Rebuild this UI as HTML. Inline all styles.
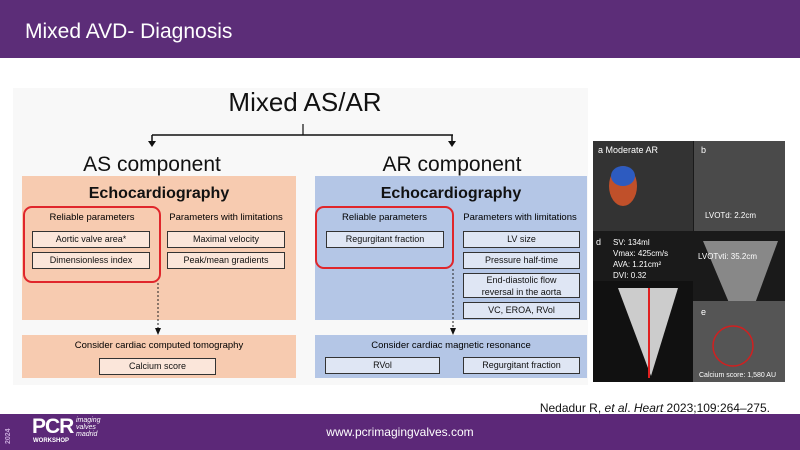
<!DOCTYPE html>
<html><head><meta charset="utf-8"><style>
*{margin:0;padding:0;box-sizing:border-box}
body{width:800px;height:450px;position:relative;background:#fff;font-family:"Liberation Sans",sans-serif;overflow:hidden}
.a{position:absolute}
.t{position:absolute;white-space:nowrap;text-align:center}
.b{position:absolute;border:1px solid #333;font-size:9px;text-align:center;line-height:15px;color:#111}
.as .b{background:#fbe6da}
.ar .b{background:#dfe6f4}
.red{position:absolute;border:2px solid #e0262b;border-radius:9px}
</style></head><body>
<div class="a" style="left:0;top:0;width:800px;height:58px;background:#5c2d78"></div>
<div class="t" style="left:25px;top:20px;color:#fff;font-size:21px">Mixed AVD- Diagnosis</div>
<div class="a" style="left:13px;top:88px;width:575px;height:297px;background:#f8f8f8"></div>
<div class="t" style="left:150px;top:87px;width:310px;font-size:26px;color:#111">Mixed AS/AR</div>
<svg class="a" style="left:0;top:0" width="800" height="450">
<line x1="152" y1="135" x2="453" y2="135" stroke="#111" stroke-width="1.5"/>
<line x1="303" y1="124" x2="303" y2="135" stroke="#111" stroke-width="1.2"/>
<line x1="152" y1="135" x2="152" y2="142" stroke="#111" stroke-width="1.5"/>
<polygon points="148,141 156,141 152,147" fill="#111"/>
<line x1="452" y1="135" x2="452" y2="142" stroke="#111" stroke-width="1.5"/>
<polygon points="448,141 456,141 452,147" fill="#111"/>
</svg>
<div class="t" style="left:52px;top:153px;width:200px;font-size:21px;color:#111">AS component</div>
<div class="t" style="left:352px;top:153px;width:200px;font-size:21px;color:#111">AR component</div>

<div class="as">
<div class="a" style="left:22px;top:176px;width:274px;height:144px;background:#f7cbb0"></div>
<div class="t" style="left:22px;top:185px;width:274px;font-size:16px;font-weight:bold;color:#111">Echocardiography</div>
<div class="red" style="left:23px;top:206px;width:138px;height:77px"></div>
<div class="t" style="left:24px;top:212px;width:136px;font-size:9.5px">Reliable parameters</div>
<div class="t" style="left:160px;top:212px;width:132px;font-size:9.5px">Parameters with limitations</div>
<div class="b" style="left:32px;top:231px;width:118px;height:17px">Aortic valve area*</div>
<div class="b" style="left:32px;top:252px;width:118px;height:17px">Dimensionless index</div>
<div class="b" style="left:167px;top:231px;width:118px;height:17px">Maximal velocity</div>
<div class="b" style="left:167px;top:252px;width:118px;height:17px">Peak/mean gradients</div>
<div class="a" style="left:22px;top:335px;width:274px;height:43px;background:#f7cbb0"></div>
<div class="t" style="left:22px;top:340px;width:274px;font-size:9.5px">Consider cardiac computed tomography</div>
<div class="b" style="left:99px;top:358px;width:117px;height:17px">Calcium score</div>
</div>

<div class="ar">
<div class="a" style="left:315px;top:176px;width:272px;height:144px;background:#b4c6e6"></div>
<div class="t" style="left:315px;top:185px;width:272px;font-size:16px;font-weight:bold;color:#111">Echocardiography</div>
<div class="red" style="left:315px;top:206px;width:139px;height:63px"></div>
<div class="t" style="left:315px;top:212px;width:139px;font-size:9.5px">Reliable parameters</div>
<div class="t" style="left:454px;top:212px;width:132px;font-size:9.5px">Parameters with limitations</div>
<div class="b" style="left:326px;top:231px;width:118px;height:17px">Regurgitant fraction</div>
<div class="b" style="left:463px;top:231px;width:117px;height:17px">LV size</div>
<div class="b" style="left:463px;top:252px;width:117px;height:17px">Pressure half-time</div>
<div class="b" style="left:463px;top:273px;width:117px;height:25px;line-height:12px">End-diastolic flow<br>reversal in the aorta</div>
<div class="b" style="left:463px;top:302px;width:117px;height:17px">VC, EROA, RVol</div>
<div class="a" style="left:315px;top:335px;width:272px;height:43px;background:#b4c6e6"></div>
<div class="t" style="left:315px;top:340px;width:272px;font-size:9.5px">Consider cardiac magnetic resonance</div>
<div class="b" style="left:325px;top:357px;width:115px;height:17px">RVol</div>
<div class="b" style="left:463px;top:357px;width:117px;height:17px">Regurgitant fraction</div>
</div>

<svg class="a" style="left:0;top:0" width="800" height="450">
<line x1="158" y1="283" x2="158" y2="330" stroke="#222" stroke-width="1" stroke-dasharray="2,2"/>
<polygon points="155,328 161,328 158,335" fill="#111"/>
<line x1="453" y1="269" x2="453" y2="330" stroke="#222" stroke-width="1" stroke-dasharray="2,2"/>
<polygon points="450,328 456,328 453,335" fill="#111"/>
</svg>

<svg class="a" style="left:593px;top:141px" width="192" height="241">
<rect width="192" height="241" fill="#1a1a1a"/>
<rect x="0" y="0" width="100" height="90" fill="#333"/>
<rect x="101" y="0" width="91" height="90" fill="#4a4a4a"/>
<ellipse cx="30" cy="45" rx="14" ry="20" fill="#c0502a"/>
<ellipse cx="30" cy="35" rx="12" ry="10" fill="#2d5bc0"/>
<rect x="0" y="140" width="100" height="101" fill="#111"/>
<polygon points="25,147 85,147 58,235" fill="#ccc"/>
<line x1="56" y1="147" x2="56" y2="237" stroke="#e02020" stroke-width="2"/>
<polygon points="110,100 185,100 150,195" fill="#888"/>
<rect x="100" y="160" width="92" height="81" fill="#555"/>
<circle cx="140" cy="205" r="20" fill="none" stroke="#d02020" stroke-width="1.5"/>
<text x="5" y="12" fill="#fff" font-size="9" font-family="Liberation Sans">a  Moderate AR</text>
<text x="108" y="12" fill="#fff" font-size="9" font-family="Liberation Sans">b</text>
<text x="112" y="77" fill="#fff" font-size="8" font-family="Liberation Sans">LVOTd: 2.2cm</text>
<text x="3" y="104" fill="#fff" font-size="9" font-family="Liberation Sans">d</text>
<text x="20" y="104" fill="#fff" font-size="8" font-family="Liberation Sans">SV: 134ml</text>
<text x="20" y="115" fill="#fff" font-size="8" font-family="Liberation Sans">Vmax: 425cm/s</text>
<text x="20" y="126" fill="#fff" font-size="8" font-family="Liberation Sans">AVA: 1.21cm²</text>
<text x="20" y="137" fill="#fff" font-size="8" font-family="Liberation Sans">DVI: 0.32</text>
<text x="105" y="118" fill="#fff" font-size="8" font-family="Liberation Sans">LVOTvti: 35.2cm</text>
<text x="108" y="174" fill="#fff" font-size="9" font-family="Liberation Sans">e</text>
<text x="106" y="236" fill="#fff" font-size="7" font-family="Liberation Sans">Calcium score: 1,580 AU</text>
</svg>

<div class="t" style="left:500px;top:401px;width:270px;text-align:right;font-size:12px;color:#111">Nedadur R, <i>et al</i>. <i>Heart</i> 2023;109:264–275.</div>
<div class="a" style="left:0;top:414px;width:800px;height:36px;background:#5c2878"></div>
<div class="t" style="left:290px;top:425px;width:220px;font-size:12px;color:#fff">www.pcrimagingvalves.com</div>
<div class="t" style="left:5px;top:444px;font-size:7px;color:#c9a8dc;font-weight:bold;transform:rotate(-90deg);transform-origin:left top">2024</div>
<div class="t" style="left:32px;top:415px;font-size:21px;color:#fff;font-weight:bold;letter-spacing:-1px">PCR</div>
<div class="t" style="left:33px;top:438px;font-size:6px;color:#fff;font-weight:bold">WORKSHOP</div>
<div class="a" style="left:76px;top:417px;font-size:7px;color:#fff;font-style:italic;line-height:7px">imaging<br>valves<br>madrid</div>
</body></html>
